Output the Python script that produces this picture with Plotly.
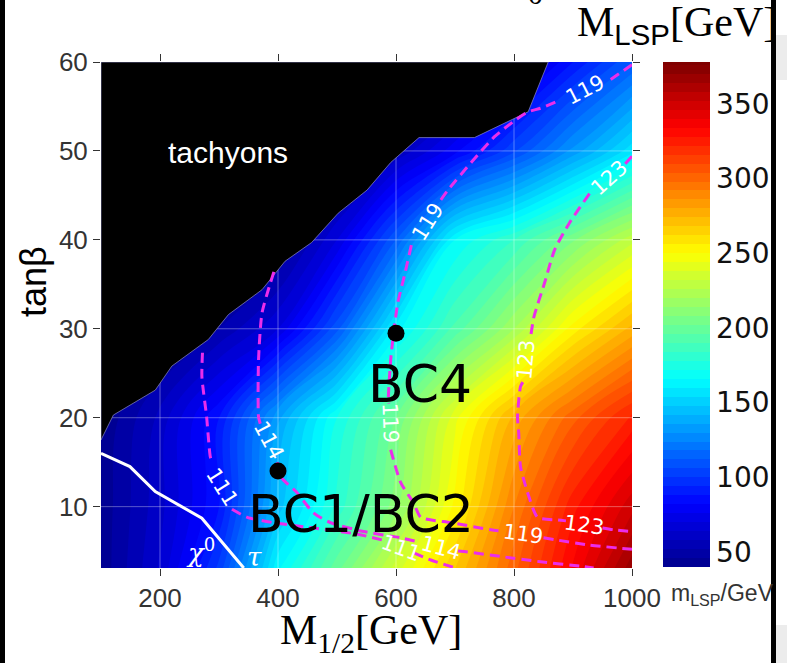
import plotly.graph_objects as go

# ---------------- data ----------------
M12 = [100, 200, 300, 400, 500, 600, 700, 800, 900, 1000]          # M_1/2 [GeV]
TANB = [3, 10, 20, 30, 40, 50, 60]                                   # tan(beta)
MLSP_TB3 = [42, 65, 102, 165, 200, 235, 268, 302, 335, 368]
MLSP_TB10 = [42, 62, 88, 145, 180, 212, 252, 292, 326, 350]
MLSP_TB20 = [40, 60, 88, 135, 172, 202, 242, 276, 302, 324]
MLSP_TB30 = [40, 40, 52, 70, 110, 163, 192, 220, 253, 276]
MLSP_TB40 = [40, 40, 40, 42, 70, 112, 166, 184, 207, 230]
MLSP_TB50 = [40, 40, 40, 40, 40, 58, 80, 105, 132, 158]
MLSP_TB60 = [40, 40, 40, 40, 40, 40, 42, 62, 88, 112]

# tachyon region boundary
TACH_X = [100, 121, 192, 220, 282, 316, 373, 412, 457, 502, 551, 591, 639, 733, 824, 858, 100, 100]
TACH_Y = [17.5, 20.3, 23.1, 25.8, 28.8, 31.6, 34.4, 37.6, 39.7, 43.0, 45.6, 48.7, 51.5, 51.5, 54.4, 60, 60, 17.5]

# chi0 / stau LSP boundary
CHI_X = [100, 149, 192, 271, 342]
CHI_Y = [16.0, 14.5, 11.7, 8.7, 3.1]

# Higgs mass contours (None = gap for inline label)
H111_X = [272, 271, 279, 285, 288, None, 322, 348, 392, 460, 535, 580, None, 630, 659, 701]
H111_Y = [27.3, 24.6, 20.1, 15.7, 15.0, None, 9.7, 8.8, 8.2, 7.6, 6.9, 6.2, None, 4.8, 4.0, 3.1]
H114_X = [393, 373, 367, 367, 370, None, 399, 404, 432, 460, 489, 545, 608, 640, None, 705, 721, 777, 845, 913, 935]
H114_Y = [36.4, 31.8, 26.5, 20.1, 19.3, None, 15.0, 13.4, 11.6, 9.3, 8.2, 7.2, 6.5, 6.0, None, 5.0, 4.9, 4.4, 3.8, 3.3, 3.1]
H119_X = [1000, 957, None, 870, 845, 824, 803, 767, 730, 688, 676, None, 626, 614, 603, 596, 591, 587, 588, None,
          591, 608, 630, 642, 693, 761, 783, None, 850, 868, 925, 1000]
H119_Y = [59.7, 57.7, None, 55.5, 54.8, 54.4, 53.5, 51.6, 48.9, 45.6, 44.5, None, 39.4, 35.9, 32.9, 29.6, 26.5, 22.0, 21.6, None,
          16.4, 12.7, 10.4, 8.8, 8.2, 7.4, 7.2, None, 6.5, 6.3, 5.7, 5.2]
H123_X = [1000, 985, None, 928, 894, 869, 852, 834, 828, None, 815, 811, 806, 808, 811, 823, 840, 874, 888, None, 950, 969, 1000]
H123_Y = [49.4, 48.3, None, 45.2, 41.9, 38.9, 35.2, 31.4, 29.0, None, 24.0, 23.5, 20.1, 18.3, 14.5, 11.6, 8.8, 8.5, 8.4, None, 7.6, 7.4, 7.2]

# contour labels: text, x, y, angle
HLAB_TEXT = ["119", "119", "119", "119", "123", "123", "123", "114", "114", "111", "111"]
HLAB_X = [920, 654, 590, 815, 961, 820, 918, 384, 676, 305, 608]
HLAB_Y = [56.9, 42.0, 19.4, 6.9, 47.0, 26.5, 7.9, 17.5, 5.4, 12.2, 5.4]
HLAB_ANG = [-27, -58, 88, 8, -42, -85, 8, 62, 15, 58, 20]

# benchmark points
BC_NAMES = ["BC1/BC2", "BC4"]
BC_X = [400, 600]
BC_Y = [14.0, 29.5]
BC_LAB_X = [540, 640]
BC_LAB_Y = [9.2, 23.8]

XTICKS = [200, 400, 600, 800, 1000]
YTICKS = [10, 20, 30, 40, 50, 60]
CBTICKS = [50, 100, 150, 200, 250, 300, 350]
ZMIN, ZMAX = 40, 378

# ---------------------------------------------------------------
Z = [MLSP_TB3, MLSP_TB10, MLSP_TB20, MLSP_TB30, MLSP_TB40, MLSP_TB50, MLSP_TB60]
jet = [[0.0, "rgb(0,0,140)"], [0.125, "rgb(0,0,255)"], [0.375, "rgb(0,255,255)"],
       [0.625, "rgb(255,255,0)"], [0.875, "rgb(255,0,0)"], [1.0, "rgb(128,0,0)"]]

YMIN, YMAX = 3.1, 60
fig = go.Figure()
fig.add_trace(go.Contour(
    x=M12, y=TANB, z=Z, zmin=ZMIN, zmax=ZMAX, zauto=False, colorscale=jet,
    contours=dict(start=ZMIN, end=ZMAX, size=6, coloring="fill", showlines=False),
    line=dict(width=0, smoothing=1.0),
    colorbar=dict(x=(663 - 101) / 531, xanchor="left", xpad=0, y=(568 - 62 - 505 / 2) / 506, yanchor="middle",
                  ypad=0, len=505 / 506, lenmode="fraction", thickness=47, outlinewidth=0,
                  tickvals=CBTICKS, ticks="", tickfont=dict(family="DejaVu Sans", size=28, color="#111")),
    hoverinfo="skip"))

# grid lines (drawn over the colour map, under the tachyon region)
for gx in XTICKS[:-1]:
    fig.add_trace(go.Scatter(x=[gx, gx], y=[YMIN, YMAX], mode="lines",
                             line=dict(color="rgba(255,255,255,0.35)", width=1), showlegend=False, hoverinfo="skip"))
for gy in YTICKS[:-1]:
    fig.add_trace(go.Scatter(x=[M12[0], M12[-1]], y=[gy, gy], mode="lines",
                             line=dict(color="rgba(255,255,255,0.35)", width=1), showlegend=False, hoverinfo="skip"))

fig.add_trace(go.Scatter(x=TACH_X, y=TACH_Y, mode="lines", fill="toself", fillcolor="black",
                         line=dict(color="rgba(140,140,200,0.7)", width=1), showlegend=False, hoverinfo="skip"))

mag = "rgb(235,45,235)"
for hx, hy in [(H111_X, H111_Y), (H114_X, H114_Y), (H119_X, H119_Y), (H123_X, H123_Y)]:
    fig.add_trace(go.Scatter(x=hx, y=hy, mode="lines", connectgaps=False,
                             line=dict(color=mag, width=3, dash="10px,6px", shape="spline", smoothing=0.6),
                             showlegend=False, hoverinfo="skip"))

fig.add_trace(go.Scatter(x=CHI_X, y=CHI_Y, mode="lines", line=dict(color="white", width=3),
                         showlegend=False, hoverinfo="skip"))

fig.add_trace(go.Scatter(x=BC_X, y=BC_Y, mode="markers", marker=dict(color="black", size=17),
                         showlegend=False, hoverinfo="skip"))

ann = []
for t, x, y, a in zip(HLAB_TEXT, HLAB_X, HLAB_Y, HLAB_ANG):
    ann.append(dict(x=x, y=y, xref="x", yref="y", text=t, showarrow=False, textangle=a,
                    font=dict(family="DejaVu Sans", size=21, color="white")))
for t, x, y in zip(BC_NAMES, BC_LAB_X, BC_LAB_Y):
    ann.append(dict(x=x, y=y, xref="x", yref="y", text=t, showarrow=False, borderpad=0,
                    font=dict(family="DejaVu Sans", size=52, color="black")))
ann.append(dict(x=316, y=49.8, xref="x", yref="y", text="tachyons", showarrow=False,
                font=dict(family="Liberation Sans", size=30, color="white")))
ann.append(dict(x=268, y=5.0, xref="x", yref="y", text="<i>χ</i><sup>0</sup>", showarrow=False,
                font=dict(family="DejaVu Serif", size=26, color="white")))
ann.append(dict(x=360, y=4.3, xref="x", yref="y", text="<i>τ</i>", showarrow=False, borderpad=0,
                font=dict(family="DejaVu Serif", size=26, color="white")))

# axis / colour bar titles
ann.append(dict(x=(575 - 101) / 531, y=(568 + 3) / 506, xref="paper", yref="paper", xanchor="left", yanchor="top",
                text="M<sub><span style='font-family:Liberation Sans'>LSP</span></sub>[GeV]", showarrow=False,
                font=dict(family="Liberation Serif", size=42, color="black")))
ann.append(dict(x=(371 - 101) / 531, y=(568 - 606) / 506, xref="paper", yref="paper", xanchor="center", yanchor="top",
                text="M<sub>1/2</sub>[GeV]", showarrow=False, borderpad=0,
                font=dict(family="Liberation Serif", size=42, color="black")))
ann.append(dict(x=(33 - 101) / 531, y=(568 - 282) / 506, xref="paper", yref="paper", xanchor="center", yanchor="middle",
                text="tanβ", textangle=-90, showarrow=False,
                font=dict(family="Liberation Sans", size=36, color="black")))
ann.append(dict(x=(669 - 101) / 531, y=(568 - 578) / 506, xref="paper", yref="paper", xanchor="left", yanchor="top",
                text="m<sub>LSP</sub>/GeV", showarrow=False,
                font=dict(family="Liberation Sans", size=23, color="#333")))
ann.append(dict(x=(535 - 101) / 531, y=(568 - 12) / 506, xref="paper", yref="paper", xanchor="center", yanchor="bottom",
                text="0", showarrow=False, font=dict(family="Liberation Serif", size=30, color="black")))

shapes = [
    dict(type="rect", xref="paper", yref="paper", x0=(0 - 101) / 531, x1=(5 - 101) / 531, y0=-2, y1=2,
         fillcolor="black", line=dict(width=0), layer="above"),
    dict(type="rect", xref="paper", yref="paper", x0=(771 - 101) / 531, x1=(776 - 101) / 531, y0=-2, y1=2,
         fillcolor="black", line=dict(width=0), layer="above"),
    dict(type="rect", xref="paper", yref="paper", x0=(776 - 101) / 531, x1=(800 - 101) / 531,
         y0=(568 - 80) / 506, y1=(568 - 35) / 506, fillcolor="#ececec", line=dict(width=0), layer="above"),
    dict(type="rect", xref="paper", yref="paper", x0=(776 - 101) / 531, x1=(800 - 101) / 531,
         y0=(568 - 670) / 506, y1=(568 - 625) / 506, fillcolor="#ececec", line=dict(width=0), layer="above"),
]

axfont = dict(family="Liberation Sans", size=26, color="#333")
fig.update_layout(
    width=787, height=663, margin=dict(l=101, r=155, t=62, b=95),
    paper_bgcolor="white", plot_bgcolor="white", showlegend=False,
    annotations=ann, shapes=shapes,
    xaxis=dict(range=[M12[0], M12[-1]], tickvals=XTICKS, ticks="outside", ticklen=7, tickcolor="#333",
               tickfont=axfont, showgrid=False, zeroline=False, showline=False, mirror="ticks"),
    yaxis=dict(range=[YMIN, YMAX], tickvals=YTICKS, ticks="outside", ticklen=7, tickcolor="#333",
               tickfont=axfont, showgrid=False, zeroline=False, showline=False, mirror="ticks"),
)
fig.write_html("out.html")
